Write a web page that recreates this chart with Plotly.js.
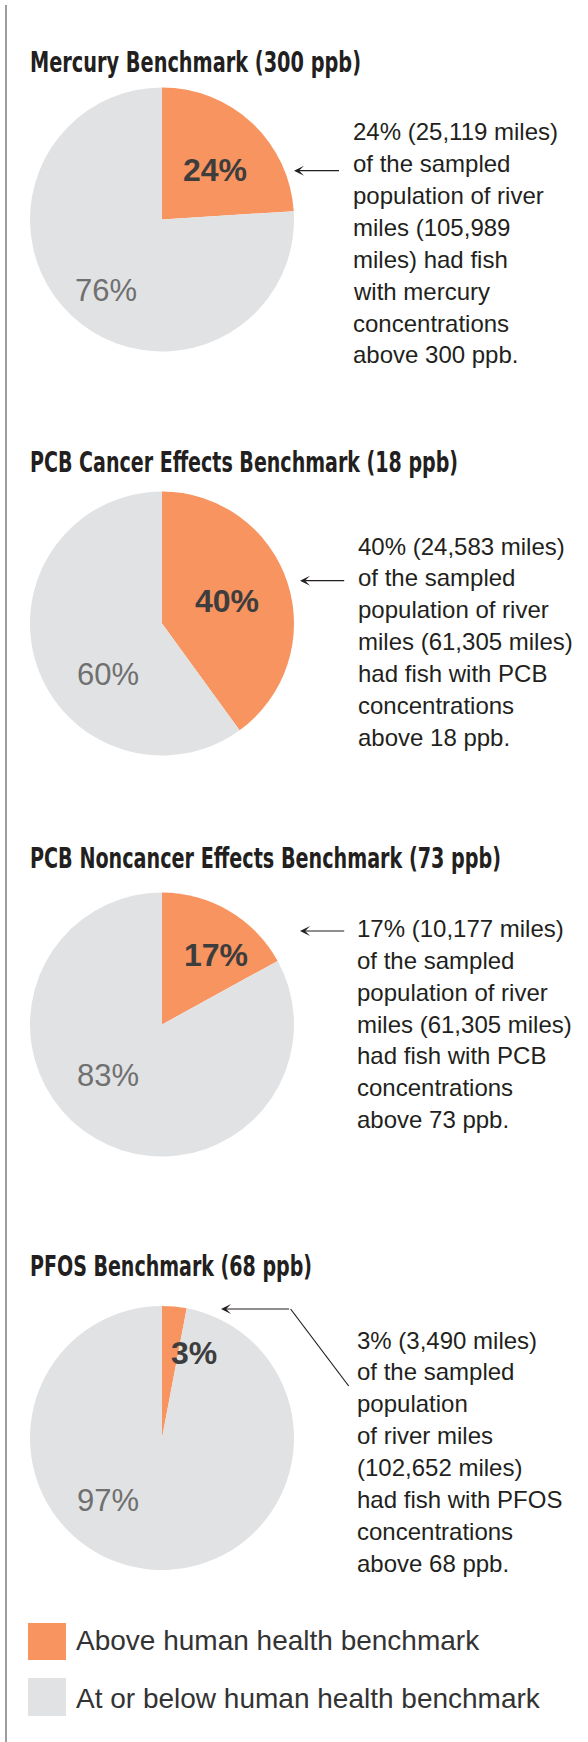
<!DOCTYPE html>
<html>
<head>
<meta charset="utf-8">
<script src="https://cdn.plot.ly/plotly-3.0.1.min.js"></script>
<style>
  html, body { margin: 0; padding: 0; background: #ffffff; }
  #chart { width: 588px; height: 1742px; }
</style>
</head>
<body>
<div id="chart"></div>
<script>
// ---------------- DATA ----------------
const titles = [
  "Mercury Benchmark (300 ppb)",
  "PCB Cancer Effects Benchmark (18 ppb)",
  "PCB Noncancer Effects Benchmark (73 ppb)",
  "PFOS Benchmark (68 ppb)"
];
const categories = ["Above human health benchmark", "At or below human health benchmark"];
const abovePct = [24, 40, 17, 3];
const belowPct = [76, 60, 83, 97];
const milesAbove = ["25,119", "24,583", "10,177", "3,490"];
const milesTotal = ["105,989", "61,305", "61,305", "102,652"];
const descLines = [
  ["24% (25,119 miles)", "of the sampled", "population of river", "miles (105,989", "miles) had fish", "with mercury", "concentrations", "above 300 ppb."],
  ["40% (24,583 miles)", "of the sampled", "population of river", "miles (61,305 miles)", "had fish with PCB", "concentrations", "above 18 ppb."],
  ["17% (10,177 miles)", "of the sampled", "population of river", "miles (61,305 miles)", "had fish with PCB", "concentrations", "above 73 ppb."],
  ["3% (3,490 miles)", "of the sampled", "population", "of river miles", "(102,652 miles)", "had fish with PFOS", "concentrations", "above 68 ppb."]
];
const sliceColors = ["#F7945F", "#E1E2E4"];

// ---------------- LAYOUT HELPERS (pixel positions) ----------------
const W = 588, H = 1742;
const X = px => px / W;
const Y = py => 1 - py / H;

const pieCX = 162, pieR = 132;
const pieCY = [219.5, 623.5, 1024.5, 1438];
const titleY = [63, 463, 859, 1267];
const titleWidth = [331, 428, 471, 282];
const titleFontSize = 24.5;
const titleStretchY = 29 / 24.5;
const descX = [350.5, 356, 354.5, 354.5];
const descY0 = [131.7, 546, 928.3, 1340];
const descStep = 31.9;
const boldLabelPos = [[215, 170], [226.5, 601], [215.6, 955], [194, 1353]];
const regLabelPos = [[106, 290.5], [108, 675], [108, 1075], [108, 1500]];
const arrows = [
  {tip: [294, 170.7], tail: [340.5, 170.7]},
  {tip: [300, 580.7], tail: [345.7, 580.7]},
  {tip: [300, 931], tail: [345.7, 931]},
  {tip: [221, 1309], tail: [290.6, 1309], extra: [[290.6, 1309], [348.7, 1386]]}
];

const titleFont = {family: "'DejaVu Sans Condensed', 'Liberation Sans Narrow', 'DejaVu Sans', sans-serif", size: titleFontSize, color: "#231f20", weight: 700};
const bodyFont = {family: "'Liberation Sans', Arial, sans-serif", size: 24, color: "#231f20"};
const ink = "#231f20";

const traces = [];
const annotations = [];
const shapes = [];
const titleAnnIdx = [];

// left rule
shapes.push({type: "line", xref: "paper", yref: "paper", x0: X(6), x1: X(6), y0: Y(5), y1: Y(H), line: {color: "#9d9d9d", width: 2}});

for (let i = 0; i < 4; i++) {
  traces.push({
    type: "pie",
    labels: categories,
    values: [abovePct[i], belowPct[i]],
    marker: {colors: sliceColors, line: {width: 0}},
    sort: false,
    direction: "clockwise",
    rotation: 0,
    textinfo: "none",
    hoverinfo: "label+percent",
    showlegend: false,
    domain: {x: [X(pieCX - pieR), X(pieCX + pieR)], y: [Y(pieCY[i] + pieR), Y(pieCY[i] - pieR)]}
  });

  titleAnnIdx.push(annotations.length);
  annotations.push({
    xref: "paper", yref: "paper", x: X(28), y: Y(titleY[i]), xanchor: "left", yanchor: "middle", align: "left",
    text: titles[i], showarrow: false, font: titleFont
  });

  annotations.push({
    xref: "paper", yref: "paper", x: X(boldLabelPos[i][0]), y: Y(boldLabelPos[i][1]), xanchor: "center", yanchor: "middle",
    text: abovePct[i] + "%", showarrow: false,
    font: {family: "'Liberation Sans', Arial, sans-serif", size: 32, color: "#3d3d3d", weight: 700}
  });
  annotations.push({
    xref: "paper", yref: "paper", x: X(regLabelPos[i][0]), y: Y(regLabelPos[i][1]), xanchor: "center", yanchor: "middle",
    text: belowPct[i] + "%", showarrow: false,
    font: {family: "'Liberation Sans', Arial, sans-serif", size: 31, color: "#707070"}
  });

  descLines[i].forEach((line, k) => {
    annotations.push({
      xref: "paper", yref: "paper", x: X(descX[i]), y: Y(descY0[i] + k * descStep), xanchor: "left", yanchor: "middle",
      text: line, showarrow: false, font: bodyFont
    });
  });

  const a = arrows[i];
  annotations.push({
    xref: "paper", yref: "paper", x: X(a.tip[0]), y: Y(a.tip[1]),
    ax: a.tail[0] - a.tip[0], ay: a.tail[1] - a.tip[1],
    text: "", showarrow: true, arrowhead: 3, arrowsize: 1.4, arrowwidth: 1.2, arrowcolor: ink, standoff: 0
  });
  if (a.extra) {
    shapes.push({type: "line", xref: "paper", yref: "paper",
      x0: X(a.extra[0][0]), y0: Y(a.extra[0][1]), x1: X(a.extra[1][0]), y1: Y(a.extra[1][1]),
      line: {color: ink, width: 1.2}});
  }
}

// legend
const legendBoxY = [[1623, 1660], [1678, 1716]];
const legendTextY = [1640, 1698.5];
for (let j = 0; j < 2; j++) {
  shapes.push({type: "rect", xref: "paper", yref: "paper",
    x0: X(28), x1: X(66), y0: Y(legendBoxY[j][1]), y1: Y(legendBoxY[j][0]),
    fillcolor: sliceColors[j], line: {width: 0}});
  annotations.push({
    xref: "paper", yref: "paper", x: X(74), y: Y(legendTextY[j]), xanchor: "left", yanchor: "middle",
    text: categories[j], showarrow: false,
    font: {family: "'Liberation Sans', Arial, sans-serif", size: 28, color: "#333333"}
  });
}

const layout = {
  width: W, height: H,
  margin: {l: 0, r: 0, t: 0, b: 0, pad: 0},
  paper_bgcolor: "#ffffff",
  plot_bgcolor: "#ffffff",
  showlegend: false,
  annotations: annotations,
  shapes: shapes
};

Plotly.newPlot("chart", traces, layout, {displayModeBar: false, staticPlot: true}).then(gd => {
  // emulate the original bold condensed typeface: fit each title to its width, taller glyphs
  titleAnnIdx.forEach((idx, i) => {
    const g = gd.querySelector('.annotation[data-index="' + idx + '"]');
    if (!g) return;
    const t = g.querySelector('text.annotation-text');
    if (!t) return;
    const cur = t.getComputedTextLength();
    t.setAttribute('textLength', titleWidth[i]);
    t.setAttribute('lengthAdjust', 'spacingAndGlyphs');
    const by = parseFloat(t.getAttribute('y')) || 0;
    const prev = t.getAttribute('transform') || '';
    t.setAttribute('transform', prev + ' translate(0,' + by + ') scale(1,' + titleStretchY + ') translate(0,' + (-by) + ')');
    const bg = g.querySelector('rect.bg');
    if (bg) {
      const bw = parseFloat(bg.getAttribute('width')) || 0;
      bg.setAttribute('width', Math.max(0, bw - (cur - titleWidth[i])));
    }
  });
});
</script>
</body>
</html>
